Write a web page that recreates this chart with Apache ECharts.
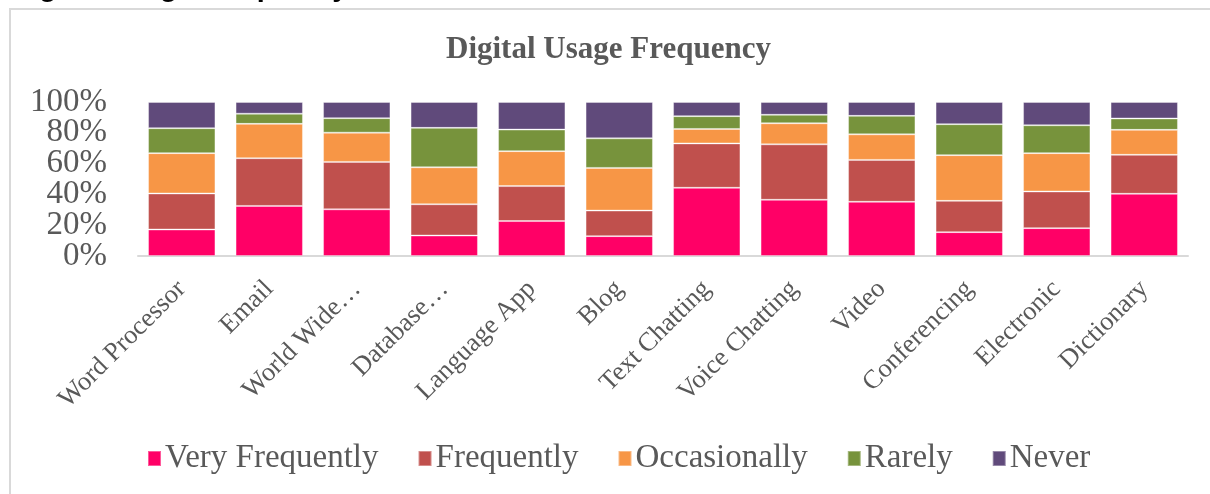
<!DOCTYPE html>
<html>
<head>
<meta charset="utf-8">
<script src="https://cdn.jsdelivr.net/npm/echarts@6/dist/echarts.min.js"></script>
<style>
html,body{margin:0;padding:0;background:#fff;}
#chart{width:1210px;height:494px;}
</style>
</head>
<body>
<div id="chart"></div>
<script>
const categories = ['Word Processor','Email','World Wide…','Database…','Language App','Blog','Text Chatting','Voice Chatting','Video','Conferencing','Electronic','Dictionary'];
const seriesNames = ['Very Frequently','Frequently','Occasionally','Rarely','Never'];
const veryFrequently = [17.2,32.5,30.3,13.3,22.7,12.9,44.3,36.5,35.2,15.5,18.1,40.4];
const frequently     = [23.4,31.0,30.8,20.3,22.7,16.6,28.8,36.0,27.2,20.3,23.8,25.3];
const occasionally   = [26.2,22.3,19.0,24.0,22.7,27.7,9.4,13.7,16.6,29.7,24.9,16.2];
const rarely         = [16.2,6.6,9.4,25.6,14.0,19.2,8.3,5.5,12.0,20.1,18.1,7.4];
const never          = [17.0,7.6,10.5,16.8,17.9,23.6,9.2,8.3,9.0,14.4,15.1,10.7];
const yTicks = [0,20,40,60,80,100];
const colors = ['#FF0066','#C0504D','#F79646','#77933C','#604A7B'];
const seriesData = [veryFrequently, frequently, occasionally, rarely, never];

const chart = echarts.init(document.getElementById('chart'));
const serif = '"Liberation Serif","Times New Roman",serif';
const yLabelStyle = {margin: 31, fontFamily: serif, fontSize: 33, color: '#595959', hideOverlap: false};
const yBase = {
  type: 'value',
  position: 'left',
  offset: 0,
  min: yTicks[0],
  max: yTicks[yTicks.length-1],
  interval: yTicks[1] - yTicks[0],
  splitLine: {show: false},
  axisLine: {show: false},
  axisTick: {show: false}
};
chart.setOption({
  animation: false,
  backgroundColor: '#ffffff',
  title: {
    text: 'Digital Usage Frequency',
    left: 446,
    top: 34,
    padding: 0,
    textStyle: {fontFamily: serif, fontWeight: 'bold', fontSize: 31, color: '#595959'}
  },
  graphic: [
    {type: 'rect', shape: {x: 10, y: 9, width: 1400, height: 700}, style: {fill: 'none', stroke: '#d9d9d9', lineWidth: 2}, silent: true, z: -1},
    {type: 'text', x: 10, y: -12, style: {text: 'Digital Usage Frequency', font: 'bold 29px "Liberation Sans", Arial, sans-serif', fill: '#000000', verticalAlign: 'middle'}, silent: true}
  ],
  legend: {
    data: seriesNames,
    left: 147,
    top: 442,
    padding: 0,
    itemWidth: 13,
    itemHeight: 15,
    itemGap: 39,
    icon: 'rect',
    textStyle: {fontFamily: serif, fontSize: 33, color: '#595959', padding: [0,0,0,-1]}
  },
  grid: {left: 138, right: 22, top: 102, bottom: 238, containLabel: false},
  xAxis: {
    type: 'category',
    data: categories,
    axisLine: {lineStyle: {color: '#d9d9d9', width: 2}},
    axisTick: {show: false},
    axisLabel: {rotate: 45, interval: 0, margin: 29, fontFamily: serif, fontSize: 26.5, color: '#595959', hideOverlap: false}
  },
  yAxis: [
    Object.assign({}, yBase, {
      axisLabel: Object.assign({}, yLabelStyle, {formatter: '{value}%', showMinLabel: true, showMaxLabel: true})
    }),
    Object.assign({}, yBase, {
      axisLabel: Object.assign({}, yLabelStyle, {
        showMinLabel: false,
        showMaxLabel: false,
        formatter: function (v) { return (v === yTicks[1] || v === yTicks[4]) ? v + '%' : ''; }
      })
    })
  ],
  series: seriesNames.map((name, i) => ({
    name: name,
    type: 'bar',
    stack: 'total',
    yAxisIndex: 0,
    barCategoryGap: '23%',
    data: seriesData[i],
    itemStyle: {color: colors[i], borderColor: 'rgba(255,255,255,0.35)', borderWidth: 1}
  }))
});
</script>
</body>
</html>
